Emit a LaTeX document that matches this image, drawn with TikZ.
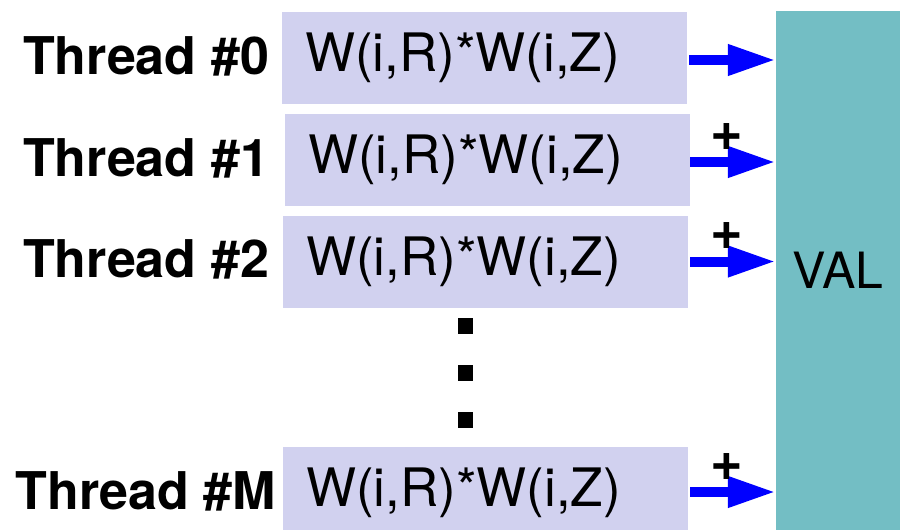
\documentclass[tikz,border=0pt]{standalone}
\usepackage{fontspec}
\setmainfont{TeX Gyre Heros}
\usetikzlibrary{calc,arrows.meta}
\definecolor{prodfill}{RGB}{209,209,239}
\definecolor{valfill}{RGB}{115,190,196}
\definecolor{sumblue}{RGB}{0,0,255}

\begin{document}
\begin{tikzpicture}[x=1pt,y=-1pt]
    \tikzstyle{every node}=[font=\fontsize{53}{60}\selectfont]
    \tikzstyle{prodbox}=[fill=prodfill, minimum height=92pt, text width=359pt, inner xsep=23pt, inner ysep=0pt, align=left]
    \tikzstyle{threadlabel}=[font=\fontsize{52}{60}\selectfont\bfseries, anchor=base, inner sep=0pt]
    \tikzstyle{valbox}=[fill=valfill, minimum width=124pt, minimum height=519pt, inner sep=0pt, font=\fontsize{50}{60}\selectfont]
    \tikzstyle{dotbox}=[fill=black, minimum width=15pt, minimum height=16pt, inner sep=0pt]
    \tikzstyle{sumarrow}=[sumblue, line width=10pt, -{Triangle[length=48pt,width=29pt]}]
    \tikzstyle{pluslabel}=[text=black, font=\fontsize{56}{60}\selectfont\bfseries, inner sep=0pt, yshift=25pt]
    \useasboundingbox (0,0) rectangle (900,530);
    % accumulator
    \node[valbox] (val) at (838,270.5) {VAL};
    % products
    \node[prodbox] (b0) at (484.5,58) {W(i,R)*W(i,Z)};
    \node[prodbox] (b1) at (487.5,160) {W(i,R)*W(i,Z)};
    \node[prodbox] (b2) at (485.5,261.5) {W(i,R)*W(i,Z)};
    \node[prodbox] (bm) at (485.5,493) {W(i,R)*W(i,Z)};
    % thread labels
    \node[threadlabel] (t0) at (146,74) {Thread \#0};
    \node[threadlabel] (t1) at (146,176) {Thread \#1};
    \node[threadlabel] (t2) at (146,277.5) {Thread \#2};
    \node[threadlabel] (tm) at (146,509) {Thread \#M};
    % dots
    \node[dotbox] (d1) at (465,326) {};
    \node[dotbox] (d2) at (465,373) {};
    \node[dotbox] (d3) at (465,420) {};
    % draw arrows
    \draw[sumarrow] ($(b0.east)+(2,2)$) -- ($(b0.east -| val.west)+(0,2)$);
    \draw[sumarrow] ($(b1.east)+(0,2)$) -- ($(b1.east -| val.west)+(0,2)$)
        node[pluslabel, pos=0.43] (p1) {+};
    \draw[sumarrow] ($(b2.east)+(2,0)$) -- ($(b2.east -| val.west)+(0,0)$)
        node[pluslabel, pos=0.43] (p2) {+};
    \draw[sumarrow] ($(bm.east)+(2,-1)$) -- ($(bm.east -| val.west)+(0,-1)$)
        node[pluslabel, pos=0.43] (pm) {+};
\end{tikzpicture}
\end{document}
